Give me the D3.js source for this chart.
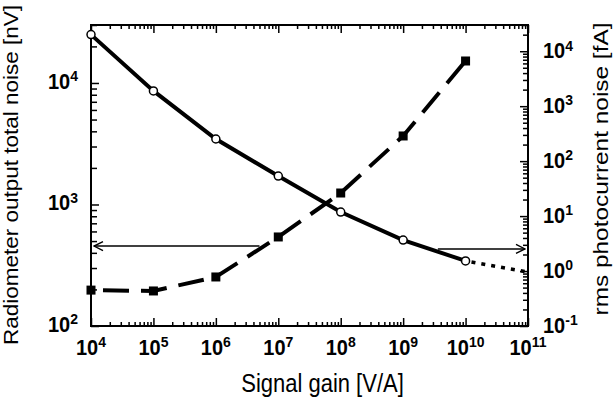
<!DOCTYPE html>
<html>
<head>
<meta charset="utf-8">
<script src="https://cdn.jsdelivr.net/npm/d3@7"></script>
<style>
  body { margin: 0; background: #fff; }
  svg { display: block; }
  text { font-family: "Liberation Sans", Arial, Helvetica, sans-serif; fill: #000; }
</style>
</head>
<body>
<div class="noiseGraph"></div>
<script>
// signal gain (V/A) for the measured points
const gains = [1e4, 1e5, 1e6, 1e7, 1e8, 1e9, 1e10];
// radiometer output total noise, nV (left axis, open circles)
const totalNoise = [25000, 8600, 3460, 1715, 867, 510, 343];
// dotted extrapolation of the total noise
const extrapGains = [1e10, 1e11];
const extrapNoise = [343, 278];
// rms photocurrent noise, fA (right axis, filled squares)
const photoNoise = [0.45, 0.434, 0.78, 4.17, 26.3, 287, 6640];

// arrows: [from gain, to gain, level]
const leftArrow = [5e6, 1e4, 455];    // level in nV, points to left axis
const rightArrow = [3.6e9, 1e11, 2.52]; // level in fA, points to right axis

// tick values
const xMajor = [1e4, 1e5, 1e6, 1e7, 1e8, 1e9, 1e10, 1e11];
const yLeftMajor = [1e2, 1e3, 1e4];
const yRightMajor = [1e-1, 1e0, 1e1, 1e2, 1e3, 1e4];

const xTitle = "Signal gain [V/A]";
const yLeftTitle = "Radiometer output total noise [nV]";
const yRightTitle = "rms photocurrent noise [fA]";

const W = 614, H = 401;
const margin = {top: 25, right: 86, bottom: 75, left: 91};
const x0 = margin.left, x1 = W - margin.right, y0 = H - margin.bottom, y1 = margin.top;

const xScale = d3.scaleLog().domain([1e4, 1e11]).range([x0, x1]);
const yLeft = d3.scaleLog().domain([1e2, 3e4]).range([y0, y1]);
const yRight = d3.scaleLog().domain([1e-1, 3e4]).range([y0, y1]);

// 2..9 times each power of ten inside the domain
function minors(scale) {
  const [a, b] = scale.domain();
  const out = [];
  for (let e = Math.floor(Math.log10(a)); e <= Math.ceil(Math.log10(b)); e++) {
    for (let k = 2; k <= 9; k++) {
      const v = k * Math.pow(10, e);
      if (v > a * 1.0001 && v <= b * 1.0001) out.push(v);
    }
  }
  return out;
}

const svg = d3.select(".noiseGraph").append("svg")
  .attr("width", W)
  .attr("height", H);

svg.append("rect").attr("width", W).attr("height", H).attr("fill", "#fff");

const defs = svg.append("defs");
defs.append("marker")
  .attr("id", "arrowHead")
  .attr("viewBox", "-11 -6 12 12")
  .attr("refX", 0).attr("refY", 0)
  .attr("markerWidth", 12).attr("markerHeight", 12)
  .attr("markerUnits", "userSpaceOnUse")
  .attr("orient", "auto")
  .append("path")
  .attr("d", "M-9,-4.5L0,0L-9,4.5")
  .attr("fill", "none")
  .attr("stroke", "#000")
  .attr("stroke-width", 1.4);

// axes: ticks point inwards on all four sides
function addAxis(axisFn, scale, transform, values, size) {
  const g = svg.append("g")
    .attr("transform", transform)
    .call(axisFn(scale).tickValues(values).tickSize(size).tickFormat(""));
  g.select(".domain").remove();
  g.selectAll(".tick line").attr("stroke", "#000").attr("stroke-width", 1.5);
  return g;
}

addAxis(d3.axisBottom, xScale, `translate(0,${y0})`, xMajor, -8);
addAxis(d3.axisBottom, xScale, `translate(0,${y0})`, minors(xScale), -4);
addAxis(d3.axisTop, xScale, `translate(0,${y1})`, xMajor, -8);
addAxis(d3.axisTop, xScale, `translate(0,${y1})`, minors(xScale), -4);
addAxis(d3.axisLeft, yLeft, `translate(${x0},0)`, yLeftMajor, -8);
addAxis(d3.axisLeft, yLeft, `translate(${x0},0)`, minors(yLeft), -6);
addAxis(d3.axisRight, yRight, `translate(${x1},0)`, yRightMajor, -8);
addAxis(d3.axisRight, yRight, `translate(${x1},0)`, minors(yRight), -5);

// frame
svg.append("rect")
  .attr("x", x0).attr("y", y1)
  .attr("width", x1 - x0).attr("height", y0 - y1)
  .attr("fill", "none")
  .attr("stroke", "#000")
  .attr("stroke-width", 2);

// power-of-ten tick labels
function powLabel(sel, anchor) {
  sel.attr("text-anchor", anchor)
    .attr("font-weight", "bold")
    .attr("font-size", 20);
  sel.append("tspan").text("10");
  sel.append("tspan")
    .attr("font-size", 14)
    .attr("dy", -7)
    .text(d => String(Math.round(Math.log10(d))));
}

svg.append("g").selectAll("text")
  .data(xMajor).enter().append("text")
  .attr("transform", d => `translate(${xScale(d)},355) scale(1,1.1)`)
  .call(powLabel, "middle");

svg.append("g").selectAll("text")
  .data(yLeftMajor).enter().append("text")
  .attr("transform", d => `translate(${x0 - 13},${yLeft(d) + 6}) scale(1,1.1)`)
  .call(powLabel, "end");

svg.append("g").selectAll("text")
  .data(yRightMajor).enter().append("text")
  .attr("transform", d => `translate(${x1 + 15},${yRight(d) + 7}) scale(1,1.1)`)
  .call(powLabel, "start");

// axis titles
svg.append("text")
  .attr("transform", `translate(${(x0 + x1) / 2 + 13},392) scale(1,1.15)`)
  .attr("text-anchor", "middle")
  .attr("font-size", 22)
  .text(xTitle);

svg.append("text")
  .attr("transform", "translate(18,175) rotate(-90)")
  .attr("text-anchor", "middle")
  .attr("font-size", 21)
  .attr("textLength", 340)
  .attr("lengthAdjust", "spacingAndGlyphs")
  .text(yLeftTitle);

svg.append("text")
  .attr("transform", "translate(608,169) rotate(-90)")
  .attr("text-anchor", "middle")
  .attr("font-size", 21)
  .attr("textLength", 293)
  .attr("lengthAdjust", "spacingAndGlyphs")
  .text(yRightTitle);

// arrows
svg.append("line")
  .attr("x1", xScale(leftArrow[0])).attr("y1", yLeft(leftArrow[2]))
  .attr("x2", xScale(leftArrow[1]) + 3).attr("y2", yLeft(leftArrow[2]))
  .attr("stroke", "#000").attr("stroke-width", 1.4)
  .attr("marker-end", "url(#arrowHead)");

svg.append("line")
  .attr("x1", xScale(rightArrow[0])).attr("y1", yRight(rightArrow[2]))
  .attr("x2", xScale(rightArrow[1]) - 3).attr("y2", yRight(rightArrow[2]))
  .attr("stroke", "#000").attr("stroke-width", 1.4)
  .attr("marker-end", "url(#arrowHead)");

// photocurrent noise: dashed line with filled squares
const photoData = gains.map((g, i) => ({g: g, v: photoNoise[i]}));
const photoLine = d3.line()
  .x(d => xScale(d.g))
  .y(d => yRight(d.v));

svg.append("path")
  .datum(photoData)
  .attr("d", photoLine)
  .attr("fill", "none")
  .attr("stroke", "#000")
  .attr("stroke-width", 4)
  .attr("stroke-dasharray", "26,12")
  .attr("stroke-dashoffset", 26);

svg.selectAll(".sq")
  .data(photoData).enter().append("rect")
  .attr("class", "sq")
  .attr("x", d => xScale(d.g) - 4.5)
  .attr("y", d => yRight(d.v) - 4.5)
  .attr("width", 9).attr("height", 9)
  .attr("fill", "#000");

// total noise: solid line, dotted extrapolation, open circles
const noiseData = gains.map((g, i) => ({g: g, v: totalNoise[i]}));
const extrapData = extrapGains.map((g, i) => ({g: g, v: extrapNoise[i]}));
const noiseLine = d3.line()
  .x(d => xScale(d.g))
  .y(d => yLeft(d.v));

svg.append("path")
  .datum(extrapData)
  .attr("d", noiseLine)
  .attr("fill", "none")
  .attr("stroke", "#000")
  .attr("stroke-width", 3.5)
  .attr("stroke-dasharray", "4,6")
  .attr("stroke-dashoffset", -6);

svg.append("path")
  .datum(noiseData)
  .attr("d", noiseLine)
  .attr("fill", "none")
  .attr("stroke", "#000")
  .attr("stroke-width", 4);

svg.selectAll(".dot")
  .data(noiseData).enter().append("circle")
  .attr("class", "dot")
  .attr("cx", d => xScale(d.g))
  .attr("cy", d => yLeft(d.v))
  .attr("r", 4)
  .attr("fill", "#fff")
  .attr("stroke", "#000")
  .attr("stroke-width", 1.5);
</script>
</body>
</html>
